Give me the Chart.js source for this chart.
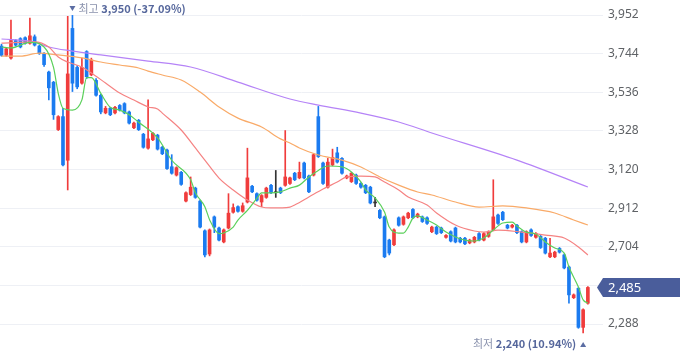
<!DOCTYPE html>
<html><head><meta charset="utf-8">
<script src="https://cdn.jsdelivr.net/npm/chart.js@4.4.1/dist/chart.umd.min.js"></script>
<style>html,body{margin:0;padding:0;background:#fff;}#wrap{width:680px;height:358px;position:relative;}</style>
</head><body><div id="wrap"><canvas id="c"></canvas></div>
<script>
const openP = [3785,3735,3720,3815,3825,3830,3800,3835,3785,3745, 3645,3590,3335,3405,3170,3880,3670,3585,3755,3630,
 3600,3520,3425,3450,3425,3465,3475,3430,3345,3385, 3310,3235,3280,3305,3240,3225,3135,3090,3105,2950,
 2985,3020,2950,2790,2665,2865,2805,2730,2805,2890, 2920,2895,2945,3030,2990,2945,2970,3035,2995,3020,
 3035,3045,3100,3075,3155,3085,3090,3405,3155,3025, 3145,3210,3180,3075,3055,3090,3045,3035,3025,2940,
 2900,2865,2740,2715,2860,2825,2860,2905,2865,2865, 2860,2785,2810,2805,2755,2785,2805,2750,2750,2725,
 2730,2775,2740,2760,2795,2875,2890,2820,2810,2820, 2785,2730,2795,2755,2760,2750,2650,2650,2695,2660,
 2595,2430,2480,2270,2400];
const closeP = [3735,3770,3815,3790,3780,3800,3840,3790,3745,3685, 3560,3415,3405,3145,3635,3585,3565,3670,3620,3710,
 3520,3430,3450,3415,3455,3440,3425,3370,3370,3335, 3240,3285,3315,3230,3205,3125,3100,3130,3040,2995,
 3025,2970,2810,2660,2795,2810,2740,2795,2885,2915, 2895,2925,3075,3000,2955,2980,3020,2995,2995,2995,
 3080,3075,3065,3105,3075,3000,3200,3190,3045,3160, 3185,3160,3100,3085,3100,3045,3025,2995,2940,2940,
 2860,2650,2670,2795,2820,2865,2885,2860,2880,2840, 2830,2810,2775,2780,2765,2735,2730,2730,2720,2740,
 2755,2740,2775,2785,2865,2830,2850,2805,2820,2780, 2730,2785,2765,2775,2700,2670,2670,2675,2675,2590,
 2445,2445,2270,2365,2485];
const highP = [3795,3775,3925,3820,3830,3835,3935,3845,3790,3750, 3650,3595,3410,3450,3945,3950,3680,3720,3760,3720,
 3610,3525,3460,3455,3460,3470,3480,3435,3375,3390, 3315,3495,3320,3310,3245,3230,3200,3135,3110,3000,
 3080,3025,2955,2795,2800,2870,2810,2800,2990,2935, 2925,2940,3235,3035,2995,2985,3025,3040,3115,3025,
 3330,3080,3105,3160,3160,3090,3205,3460,3160,3180, 3230,3240,3185,3090,3105,3095,3050,3040,3030,2970,
 2905,2870,2745,2800,2865,2870,2890,2910,2885,2870, 2865,2815,2815,2810,2770,2790,2810,2755,2755,2745,
 2760,2780,2780,2790,3065,2880,2895,2825,2825,2825, 2790,2790,2800,2780,2765,2755,2750,2680,2700,2665,
 2600,2450,2485,2370,2490];
const lowP = [3730,3730,3715,3785,3775,3795,3795,3785,3740,3675, 3495,3390,3330,3140,3010,3540,3555,3580,3610,3625,
 3515,3420,3420,3410,3420,3435,3420,3365,3340,3330, 3235,3230,3275,3225,3200,3120,3095,3085,3035,2945,
 2980,2965,2805,2650,2655,2780,2735,2725,2800,2885, 2890,2890,2940,2995,2950,2920,2965,2990,2970,2990,
 3030,3040,3060,3070,3070,2995,3085,3185,3040,3020, 3140,3155,3095,3070,3050,3040,3020,2990,2935,2920,
 2855,2645,2660,2710,2815,2820,2855,2855,2860,2835, 2825,2780,2770,2775,2750,2730,2725,2725,2715,2720,
 2725,2735,2735,2755,2790,2825,2845,2800,2805,2775, 2725,2725,2760,2750,2695,2665,2645,2645,2670,2585,
 2400,2425,2265,2240,2395];

// moving averages: [candle index, value]
const ma5 = [[0,3780],[2,3775],[6,3805],[9,3780],[11,3670],[12,3530],[13,3450],[15,3440],[17,3495],[18,3615],[19,3615],
 [21,3530],[23,3455],[25,3440],[27,3415],[29,3375],[33,3290],[36,3170],[40,3065],[41,2995],[43,2920],[44,2850],
 [46,2775],[47,2778],[49,2810],[50,2848],[52,2900],[54,2965],[55,2994],[57,2994],[59,3000],[61,3020],[63,3036],
 [65,3080],[67,3115],[69,3139],[72,3134],[74,3107],[76,3053],[77,3010],[79,2967],[81,2891],[82,2810],[84,2778],
 [85,2778],[86,2810],[87,2859],[88,2870],[90,2848],[92,2821],[94,2783],[96,2757],[98,2740],[100,2735],[102,2751],
 [104,2794],[106,2832],[108,2837],[109,2816],[111,2783],[113,2773],[115,2730],[117,2697],[119,2670],[120,2595],
 [122,2487],[123,2418],[124,2401]];
const ma20 = [[0,3801],[7,3807],[10,3780],[12,3726],[14,3699],[17,3672],[19,3640],[22,3586],[25,3532],[28,3494],
 [31,3457],[33,3446],[34,3424],[38,3333],[41,3236],[43,3171],[46,3074],[49,3010],[52,2956],[55,2918],[57,2913],
 [61,2918],[62,2929],[65,2972],[68,3015],[71,3053],[73,3080],[76,3085],[79,3080],[81,3053],[84,3010],[86,2972],
 [90,2929],[92,2886],[96,2821],[100,2789],[102,2783],[105,2794],[110,2783],[115,2767],[119,2751],[122,2703],[124,2660]];
const ma60 = [[0,3731],[4,3731],[8,3747],[12,3737],[17,3721],[21,3699],[25,3683],[29,3667],[31,3650],[34,3629],
 [38,3602],[42,3537],[46,3457],[50,3397],[55,3349],[59,3285],[61,3263],[63,3236],[67,3198],[72,3171],[76,3134],
 [80,3080],[84,3036],[88,2999],[91,2983],[96,2945],[101,2918],[106,2924],[111,2913],[117,2886],[121,2848],[124,2821]];
const ma120 = [[0,3823],[7,3807],[10,3780],[15,3758],[21,3737],[31,3704],[40,3672],[50,3591],[61,3500],[67,3467],
 [76,3424],[84,3376],[91,3317],[109,3171],[124,3026]];
const yTicks = [2288,2496,2704,2912,3120,3328,3536,3744,3952];

const UP='#f03c3c', DOWN='#1b7bf0', FLAT='#333333';
const idx = openP.map((_,i)=>i);
const colors = idx.map(i => closeP[i]>openP[i]?UP:(closeP[i]<openP[i]?DOWN:FLAT));
const wickData = idx.map(i=>({x:i,y:[lowP[i],highP[i]]}));
const bodyData = idx.map(i=>({x:i,y:[openP[i],closeP[i]]}));
const toPts = arr => arr.map(([x,y])=>({x,y}));
const fmt = v => Math.round(v).toLocaleString('en-US');
const KR = "'Noto Sans CJK KR','Noto Sans',sans-serif";

const lineDs = (data,color)=>({type:'line',data:toPts(data),borderColor:color,borderWidth:1.2,pointRadius:0,
  cubicInterpolationMode:'monotone',order:0});

const priceTag = {
  id:'priceTag',
  afterDraw(chart){
    const {ctx, scales:{y}} = chart;
    const last = closeP[closeP.length-1];
    const py = Math.round(y.getPixelForValue(last))+0.5;
    const x0 = chart.chartArea.right - 6, x1 = chart.chartArea.right, x2 = chart.width, h = 9.5;
    ctx.save();
    ctx.fillStyle = '#4a5d9b';
    ctx.beginPath();
    ctx.moveTo(x0, py);
    ctx.lineTo(x1, py-h);
    ctx.lineTo(x2, py-h);
    ctx.lineTo(x2, py+h);
    ctx.lineTo(x1, py+h);
    ctx.closePath();
    ctx.fill();
    ctx.fillStyle = '#ffffff';
    ctx.font = "13px 'Noto Sans',sans-serif";
    ctx.textBaseline = 'middle';
    ctx.textAlign = 'left';
    ctx.fillText(fmt(last), x1+5, py+0.5);
    ctx.restore();
  }
};

const hiLo = {
  id:'hiLo',
  afterDatasetsDraw(chart){
    const {ctx, scales:{x}} = chart;
    const last = closeP[closeP.length-1];
    let hi = 0, lo = 0;
    highP.forEach((v,i)=>{ if(v>highP[hi]) hi=i; });
    lowP.forEach((v,i)=>{ if(v<lowP[lo]) lo=i; });
    const hiPct = ((last-highP[hi])/highP[hi]*100).toFixed(2);
    const loPct = ((last-lowP[lo])/lowP[lo]*100).toFixed(2);
    ctx.save();
    ctx.textBaseline = 'middle';
    let hx = x.getPixelForValue(hi), ty = 9;
    ctx.fillStyle = '#5b6da3';
    ctx.beginPath(); ctx.moveTo(hx-3,ty-3); ctx.lineTo(hx+3,ty-3); ctx.lineTo(hx,ty+2); ctx.closePath(); ctx.fill();
    let cx = hx + 6;
    ctx.font = "11px "+KR; ctx.fillStyle = '#8a92ad'; ctx.textAlign='left';
    ctx.fillText('최고', cx, ty); cx += ctx.measureText('최고 ').width;
    ctx.font = "bold 11px "+KR; ctx.fillStyle = '#56679c';
    ctx.fillText(fmt(highP[hi])+' ('+hiPct+'%)', cx, ty);
    let lx = x.getPixelForValue(lo), by = 344;
    ctx.fillStyle = '#5b6da3';
    ctx.beginPath(); ctx.moveTo(lx-3,by+3); ctx.lineTo(lx+3,by+3); ctx.lineTo(lx,by-2); ctx.closePath(); ctx.fill();
    let rx = lx - 7;
    ctx.textAlign='right';
    ctx.font = "bold 11px "+KR; ctx.fillStyle = '#56679c';
    const numTxt = fmt(lowP[lo])+' ('+loPct+'%)';
    ctx.fillText(numTxt, rx, by);
    rx -= ctx.measureText(numTxt+' ').width;
    ctx.font = "11px "+KR; ctx.fillStyle = '#8a92ad';
    ctx.fillText('최저', rx, by);
    ctx.restore();
  }
};

new Chart(document.getElementById('c'), {
  type:'bar',
  data:{datasets:[
    lineDs(ma5,'#5bd05b'),
    lineDs(ma20,'#f58383'),
    lineDs(ma60,'#f9aa68'),
    lineDs(ma120,'#b583f7'),
    {type:'bar',data:bodyData,backgroundColor:colors,barThickness:3,grouped:false,minBarLength:1,borderWidth:0,order:1},
    {type:'bar',data:wickData,backgroundColor:colors,barThickness:1,grouped:false,borderWidth:0,order:2}
  ]},
  options:{
    responsive:true, maintainAspectRatio:false, animation:false,
    layout:{padding:0},
    plugins:{legend:{display:false},tooltip:{enabled:false}},
    scales:{
      x:{type:'linear',min:-0.32,max:127.2,display:false,offset:false,
        afterFit(s){ s.paddingLeft=0; s.paddingRight=0; s.paddingTop=0; s.paddingBottom=0; }},
      y:{position:'right',min:2105,max:4033,
        afterBuildTicks(s){ s.ticks = yTicks.map(v=>({value:v})); },
        afterFit(s){ s.width = 77; s.paddingTop=0; s.paddingBottom=0; s.paddingLeft=0; s.paddingRight=0; },
        grid:{color:'#eef0f5',drawTicks:false},
        border:{display:false},
        ticks:{padding:5,crossAlign:'near',color:'#5f6266',font:{family:"'Noto Sans',sans-serif",size:12},
          callback:v=>fmt(v)}
      }
    }
  },
  plugins:[priceTag,hiLo]
});
</script></body></html>
